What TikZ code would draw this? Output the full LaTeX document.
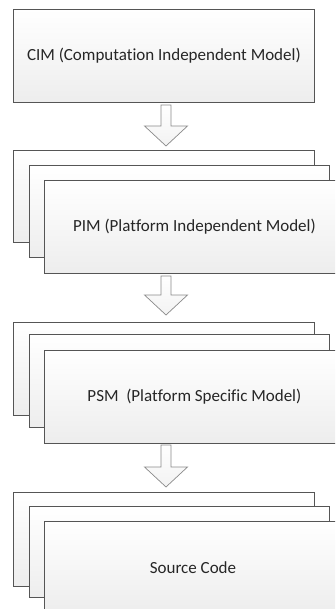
\documentclass[tikz,border=0pt]{standalone}
\usepackage{fontspec}
\setmainfont[Ligatures=NoCommon]{Carlito}
\usetikzlibrary{calc}
\definecolor{edge}{HTML}{555555}
\definecolor{arrowedge}{HTML}{8A8A8A}
\tikzset{
  card/.style={draw=edge, line width=0.8pt, top color=white, bottom color=gray!14,
    anchor=north west, inner sep=0pt, minimum width=#1, text=black!85,
    font=\fontsize{17}{20}\selectfont},
  blockarrow/.style={draw=arrowedge, line width=0.7pt, top color=white, bottom color=gray!10, line join=miter}
}
\newcommand{\blockarr}[2]{%
  \path[blockarrow] ($(#1)+(-5,0)$) -- ($(#1)+(5,0)$) -- ($(#2)+(5,-20)$) -- ($(#2)+(21.5,-20)$)
    -- (#2) -- ($(#2)+(-21.5,-20)$) -- ($(#2)+(-5,-20)$) -- cycle;}
\begin{document}
\begin{tikzpicture}[x=1pt,y=-1pt]
\useasboundingbox (0,0) rectangle (335,609);
\clip (0,0) rectangle (335,609);
% CIM
\node[card=301pt, minimum height=93pt] (cim) at (13,9) {CIM (Computation Independent Model)};
% PIM stack
\node[card=301pt, minimum height=92pt] (pimA) at (13,150) {};
\node[card=300pt, minimum height=92pt] (pimB) at (29,165) {};
\node[card=300pt, minimum height=93pt] (pim) at (44,180) {PIM (Platform Independent Model)};
% PSM stack
\node[card=301pt, minimum height=93pt] (psmA) at (13,322) {};
\node[card=300pt, minimum height=93pt] (psmB) at (29,334) {};
\node[card=300pt, minimum height=93pt] (psm) at (44,350) {PSM\ \ (Platform Specific Model)};
% Source stack
\node[card=301pt, minimum height=94pt] (srcA) at (13,492) {};
\node[card=300pt, minimum height=91pt] (srcB) at (29,506) {};
\node[card=300pt, minimum height=90pt] (src) at (44,521) {};
\node[text=black!85, font=\fontsize{17}{20}\selectfont, inner sep=0pt] (srclabel) at (193,568) {Source Code};
% arrows
\coordinate (a1s) at (166,105); \coordinate (a1e) at (166,146);
\coordinate (a2s) at (166,276); \coordinate (a2e) at (166,315);
\coordinate (a3s) at (166,445); \coordinate (a3e) at (166,487);
\blockarr{a1s}{a1e}
\blockarr{a2s}{a2e}
\blockarr{a3s}{a3e}
\end{tikzpicture}
\end{document}
